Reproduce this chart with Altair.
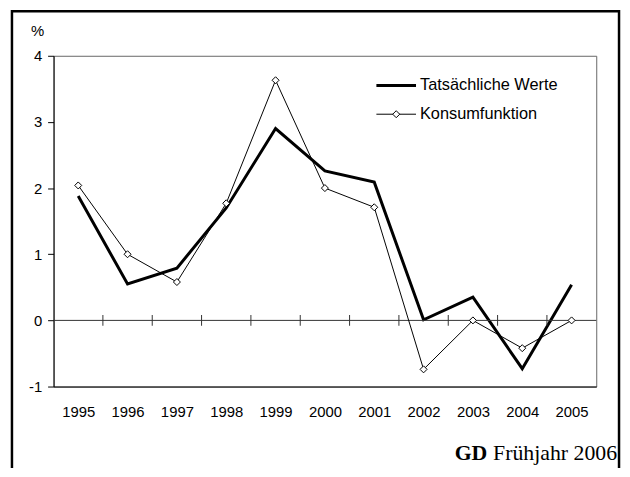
import altair as alt
import pandas as pd

# ---- data ----
years = [1995, 1996, 1997, 1998, 1999, 2000, 2001, 2002, 2003, 2004, 2005]
actual = [1.88, 0.55, 0.79, 1.70, 2.90, 2.26, 2.09, 0.01, 0.35, -0.73, 0.54]
consumption = [2.04, 1.00, 0.58, 1.77, 3.63, 2.00, 1.71, -0.74, 0.00, -0.42, 0.00]
y_ticks = [-1, 0, 1, 2, 3, 4]
legend_labels = ["Tatsächliche Werte", "Konsumfunktion"]
y_unit = "%"
footer_bold = "GD"
footer_text = "Frühjahr 2006"

SANS = "Liberation Sans"
SERIF = "Liberation Serif"

df = pd.DataFrame({"year": years, "actual": actual, "consumption": consumption})
bounds = pd.DataFrame({
    "year": [(a + b) / 2 for a, b in zip(years[:-1], years[1:])],
    "zero": [0] * (len(years) - 1),
})
zero_df = pd.DataFrame({"zero": [0]})

x_scale = alt.Scale(domain=[years[0] - 0.5, years[-1] + 0.5], nice=False, zero=False)
y_scale = alt.Scale(domain=[min(y_ticks), max(y_ticks)], nice=False, zero=False)

x_axis = alt.Axis(values=years, format="d", tickSize=0, labelPadding=18,
                  labelFontSize=15, labelColor="black", labelFont=SANS,
                  domainColor="black", domainWidth=1, grid=False, title=None)
y_axis = alt.Axis(values=y_ticks, labelExpr="'' + datum.value", tickSize=6,
                  tickColor="black", tickWidth=1,
                  domainColor="black", domainWidth=1, labelFontSize=15,
                  labelColor="black", labelFont=SANS, labelPadding=6, grid=False,
                  title=y_unit, titleAngle=0, titleX=-16.5, titleY=-25,
                  titleAlign="center", titleBaseline="middle",
                  titleFontWeight="normal", titleFontSize=15, titleColor="black",
                  titleFont=SANS)


def X(field):
    return alt.X(field, scale=x_scale, axis=x_axis, title=None)


def Y(field):
    return alt.Y(field, scale=y_scale, axis=y_axis, title=y_unit)


base = alt.Chart(df)

actual_line = base.mark_line(color="black", strokeWidth=3).encode(
    x=X("year:Q"), y=Y("actual:Q"))

cons_line = base.mark_line(color="black", strokeWidth=1).encode(
    x=X("year:Q"), y=Y("consumption:Q"))

cons_pts = base.mark_point(shape="diamond", filled=True, fill="white", stroke="black",
                           strokeWidth=1, size=50, opacity=1).encode(
    x=X("year:Q"), y=Y("consumption:Q"))

zero_rule = alt.Chart(zero_df).mark_rule(color="#333333", strokeWidth=1).encode(
    y=Y("zero:Q"))

zero_ticks = alt.Chart(bounds).mark_tick(orient="vertical", size=11, thickness=1,
                                         color="#333333", opacity=1).encode(
    x=X("year:Q"), y=Y("zero:Q"))

# ---- legend ----
leg1 = pd.DataFrame({"t": [legend_labels[0]]})
leg2 = pd.DataFrame({"t": [legend_labels[1]]})
leg_line1 = alt.Chart(leg1).mark_rule(color="black", strokeWidth=3).encode(
    x=alt.value(326), x2=alt.value(366), y=alt.value(30))
leg_text1 = alt.Chart(leg1).mark_text(align="left", baseline="middle", fontSize=16.5,
                                      font=SANS, color="black").encode(
    text="t:N", x=alt.value(370), y=alt.value(30))
leg_line2 = alt.Chart(leg2).mark_rule(color="black", strokeWidth=1).encode(
    x=alt.value(326), x2=alt.value(366), y=alt.value(59))
leg_pt2 = alt.Chart(leg2).mark_point(shape="diamond", filled=True, fill="white",
                                     stroke="black", strokeWidth=1, size=50, opacity=1).encode(
    x=alt.value(346), y=alt.value(59))
leg_text2 = alt.Chart(leg2).mark_text(align="left", baseline="middle", fontSize=16.5,
                                      font=SANS, color="black").encode(
    text="t:N", x=alt.value(370), y=alt.value(59))

# ---- outer frame and footer ----
frame = alt.Chart(zero_df).mark_rect(fillOpacity=0, stroke="black", strokeWidth=2.5).encode(
    x=alt.value(-42), x2=alt.value(571), y=alt.value(-45), y2=alt.value(480))

foot_df = pd.DataFrame({"a": [footer_bold], "b": [footer_text]})
foot_bold = alt.Chart(foot_df).mark_text(align="right", baseline="alphabetic", fontSize=22,
                                         font=SERIF, fontWeight="bold", color="black").encode(
    text="a:N", x=alt.value(438), y=alt.value(408))
foot_norm = alt.Chart(foot_df).mark_text(align="right", baseline="alphabetic", fontSize=22,
                                         font=SERIF, color="black").encode(
    text="b:N", x=alt.value(569), y=alt.value(408))

chart = alt.layer(
    actual_line, frame, zero_rule, zero_ticks, cons_line, cons_pts,
    leg_line1, leg_text1, leg_line2, leg_pt2, leg_text2, foot_bold, foot_norm,
).properties(
    width=548, height=334,
    autosize=alt.AutoSizeParams(type="none"),
    padding={"left": 46, "top": 46, "right": 26, "bottom": 80},
    background="white",
).configure_view(stroke="#666666", strokeWidth=1)

chart.save("out.html", embed_options={"renderer": "svg", "actions": False})
